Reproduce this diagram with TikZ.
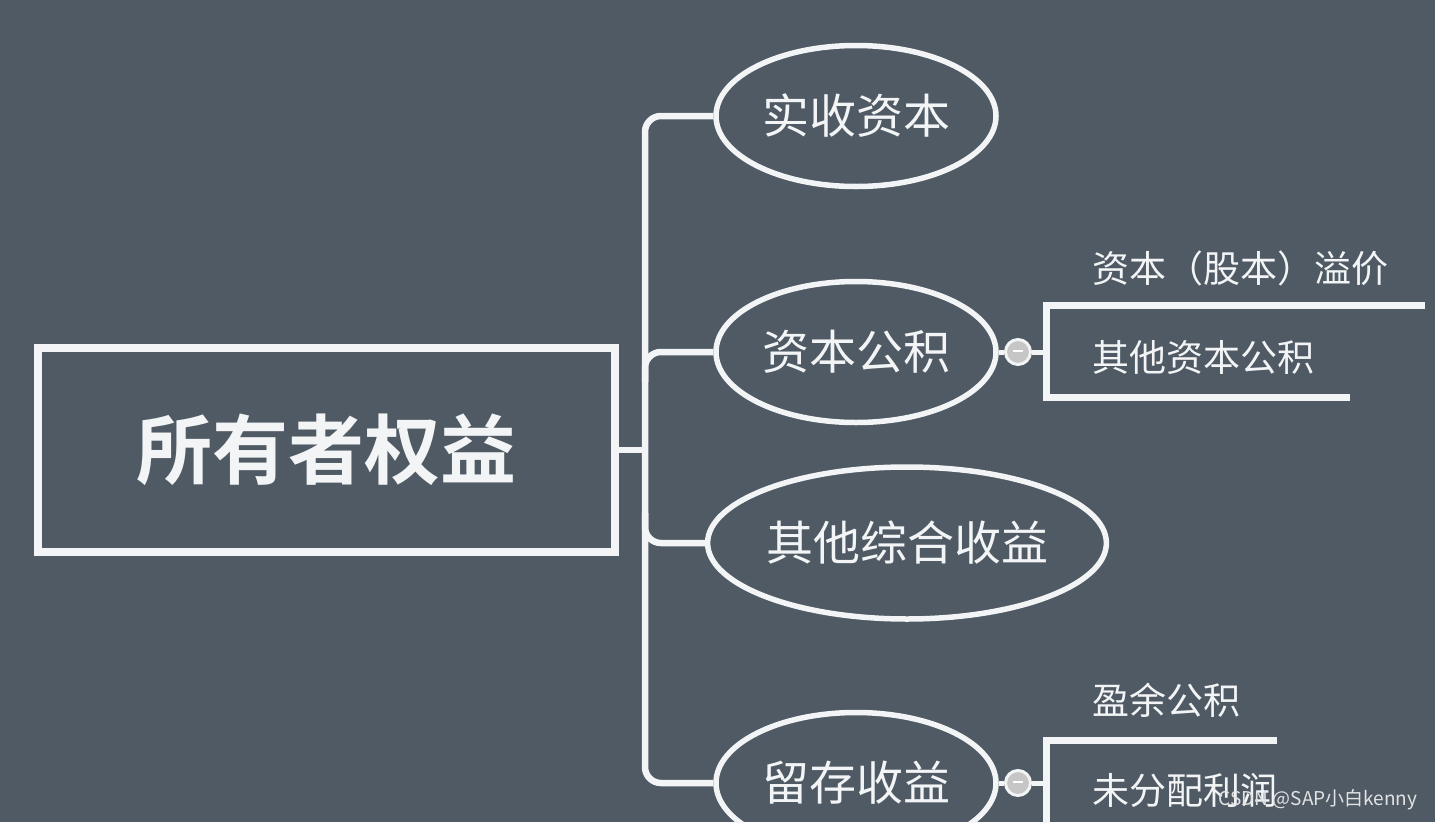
\documentclass[tikz,border=0pt]{standalone}
\usepackage{fontspec}
\newfontfamily\cjk{Noto Sans CJK SC}[BoldFont={Noto Sans CJK SC Bold}]
\usetikzlibrary{shapes.geometric,positioning}
\definecolor{bgcol}{RGB}{79,90,100}
\definecolor{inkcol}{RGB}{242,244,245}

\begin{document}
\begin{tikzpicture}[
  x=1pt, y=-1pt,
  font=\cjk,
  rootbox/.style={draw=inkcol, line width=8pt, rectangle, minimum width=577pt, minimum height=204pt, text=inkcol, font=\cjk\bfseries\fontsize{76}{76}\selectfont},
  topic/.style={ellipse, draw=inkcol, line width=5.5pt, minimum width=280pt, minimum height=141pt, inner sep=0pt, text=inkcol, font=\cjk\fontsize{47}{47}\selectfont},
  leaf/.style={anchor=west, inner sep=0pt, text=inkcol, font=\cjk\fontsize{37}{37}\selectfont},
  fold/.style={circle, draw=inkcol, line width=3pt, fill=gray!45, minimum size=25pt, inner sep=0pt},
  link/.style={draw=inkcol, line width=6.5pt, rounded corners=16pt},
  under/.style={draw=inkcol, line width=7pt}
]
\useasboundingbox (0,0) rectangle (1435,822);
\clip (0,0) rectangle (1435,822);
\fill[bgcol] (0,0) rectangle (1435,822);

% root and main topics
\node[rootbox] (root) at (326,450) {所有者权益};
\node[topic] (paid) at (856,116) {实收资本};
\node[topic] (surplus) at (856,352) {资本公积};
\node[topic, minimum width=378pt, minimum height=152pt] (oci) at (907,543) {其他综合收益};
\node[topic] (retained) at (856,783) {留存收益};

% trunk
\coordinate (trunk) at (645,450);
\draw[link] (root.east) -- (trunk);
\draw[link] (paid.west) -| (trunk |- retained.west) -- (retained.west);
\draw[link] ([yshift=-30pt]trunk |- surplus.west) |- (surplus.west);
\draw[link] ([yshift=30pt]trunk |- oci.west) |- (oci.west);

% capital reserve sub-topics
\node[fold] (foldA) at (1018,352) {\textcolor{white}{\rule[2pt]{10pt}{2pt}}};
\node[leaf] (premium) at (1092,268) {资本（股本）溢价};
\node[leaf] (othercap) at (1092,357) {其他资本公积};
\coordinate (A1) at (1046,305);
\coordinate (A2) at (1046,397);
\coordinate (A1end) at (1425,305);
\coordinate (A2end) at (1350,397);
\draw[link, line width=5pt] (surplus.east) -- (foldA);
\draw[link, line width=5pt] (foldA) -- (foldA -| A1);
\draw[under] (A1end) -- (A1) -- (A2) -- (A2end);

% retained earnings sub-topics
\node[fold] (foldB) at (1018,783) {\textcolor{white}{\rule[2pt]{10pt}{2pt}}};
\node[leaf] (reserve) at (1092,700) {盈余公积};
\node[leaf] (undist) at (1092,790) {未分配利润};
\coordinate (B1) at (1046,740);
\coordinate (B2) at (1046,835);
\coordinate (B1end) at (1277,740);
\coordinate (B2end) at (1300,835);
\draw[link, line width=5pt] (retained.east) -- (foldB);
\draw[link, line width=5pt] (foldB) -- (foldB -| B1);
\draw[under] (B1end) -- (B1) -- (B2) -- (B2end);

% watermark
\node[inner sep=0pt, text=inkcol!85!gray, font=\cjk\fontsize{19}{19}\selectfont] (mark) at (1318,800) {CSDN @SAP小白kenny};
\end{tikzpicture}
\end{document}
